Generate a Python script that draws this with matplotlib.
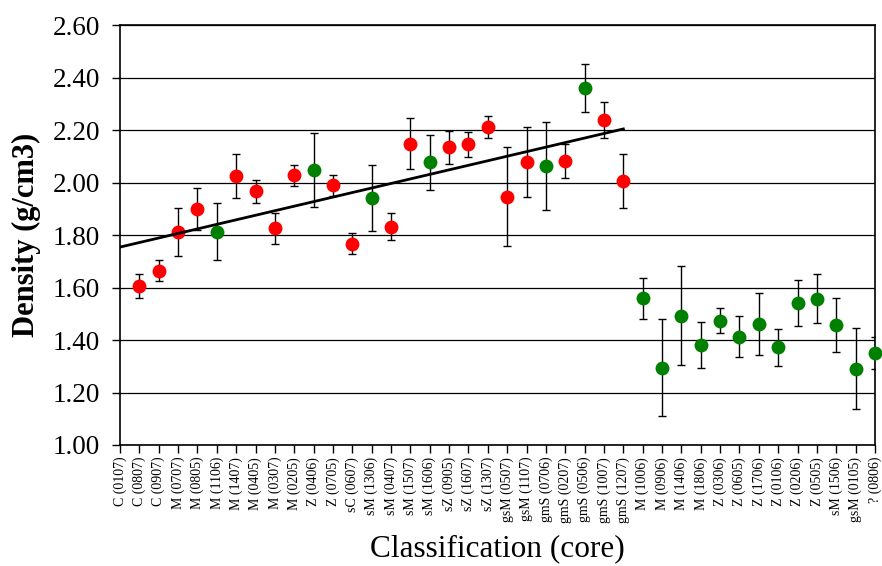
import numpy as np
import matplotlib
matplotlib.use('Agg')
import matplotlib.pyplot as plt

plt.rcParams['font.family'] = ['Liberation Serif', 'DejaVu Serif']

labels = ['C (0107)', 'C (0807)', 'C (0907)', 'M (0707)', 'M (0805)',
          'M (1106)', 'M (1407)', 'M (0405)', 'M (0307)', 'M (0205)',
          'Z (0406)', 'Z (0705)', 'sC (0607)', 'sM (1306)', 'sM (0407)',
          'sM (1507)', 'sM (1606)', 'sZ (0905)', 'sZ (1607)', 'sZ (1307)',
          'gsM (0507)', 'gsM (1107)', 'gmS (0706)', 'gmS (0207)', 'gmS (0506)',
          'gmS (1007)', 'gmS (1207)', 'M (1006)', 'M (0906)', 'M (1406)',
          'M (1806)', 'Z (0306)', 'Z (0605)', 'Z (1706)', 'Z (0106)',
          'Z (0206)', 'Z (0505)', 'sM (1506)', 'gsM (0105)', '? (0806)']

# density per core (nan = no value shown)
density = [np.nan, 1.606, 1.664, 1.811, 1.898,
           1.813, 2.024, 1.966, 1.825, 2.027,
           2.048, 1.990, 1.766, 1.941, 1.832,
           2.148, 2.077, 2.134, 2.145, 2.210,
           1.946, 2.078, 2.063, 2.082, 2.359,
           2.238, 2.006, 1.559, 1.295, 1.493,
           1.382, 1.474, 1.413, 1.462, 1.372,
           1.541, 1.557, 1.458, 1.291, 1.349]

err = [np.nan, 0.045, 0.040, 0.090, 0.080,
       0.108, 0.083, 0.044, 0.060, 0.040,
       0.140, 0.040, 0.040, 0.126, 0.052,
       0.098, 0.105, 0.062, 0.047, 0.042,
       0.188, 0.133, 0.166, 0.065, 0.092,
       0.067, 0.104, 0.078, 0.185, 0.190,
       0.087, 0.047, 0.079, 0.118, 0.070,
       0.087, 0.094, 0.103, 0.155, 0.061]

# r = red marker, g = green marker
group = ['-', 'r', 'r', 'r', 'r', 'g', 'r', 'r', 'r', 'r',
         'g', 'r', 'r', 'g', 'r', 'r', 'g', 'r', 'r', 'r',
         'r', 'r', 'g', 'r', 'g', 'r', 'r', 'g', 'g', 'g',
         'g', 'g', 'g', 'g', 'g', 'g', 'g', 'g', 'g', 'g']

trend_x = [0, 26]
trend_y = [1.754, 2.204]

colors = {'r': '#ff0000', 'g': '#008000'}

fig = plt.figure(figsize=(8.82, 5.66), dpi=100)
ax = fig.add_axes([120/882., 1 - 445/566., 755/882., 420/566.])

x = np.arange(len(labels))
d = np.array(density)
e = np.array(err)

ax.errorbar(x, d, yerr=e, fmt='none', ecolor='black', elinewidth=1.0,
            capsize=3, capthick=1.0, zorder=3)
for key in ['r', 'g']:
    idx = [i for i in range(len(group)) if group[i] == key]
    ax.plot(x[idx], d[idx], 'o', color=colors[key], markersize=10,
            markeredgewidth=0, zorder=4, clip_on=False)
ax.plot(trend_x, trend_y, color='black', linewidth=2.0, zorder=5)

ax.set_xlim(0, len(labels) - 1)
ax.set_ylim(1.0, 2.6)
ax.set_yticks(np.arange(1.0, 2.61, 0.2))
ax.set_yticklabels(['%.2f' % v for v in np.arange(1.0, 2.61, 0.2)], fontsize=19.5)
ax.set_xticks(x)
ax.set_xticklabels(labels, rotation=90, fontsize=10)
ax.yaxis.grid(True, color='black', linewidth=0.9)
ax.set_axisbelow(True)
ax.tick_params(axis='both', direction='out', length=5.5, width=1, color='black')
ax.tick_params(axis='y', pad=9)
ax.tick_params(axis='x', pad=3)
for s in ax.spines.values():
    s.set_linewidth(1.2)
    s.set_color('black')

ax.set_ylabel('Density (g/cm3)', fontsize=22, fontweight='bold', labelpad=8)
ax.set_xlabel('Classification (core)', fontsize=22.5, labelpad=8)

fig.savefig('out.png', dpi=100)
